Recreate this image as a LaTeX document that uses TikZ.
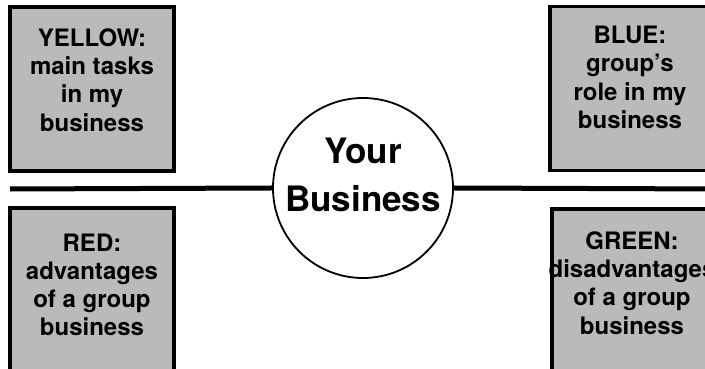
\documentclass[tikz,border=0pt]{standalone}
\usepackage{fontspec}
\setmainfont{TeX Gyre Heros}
\usepackage{tikz}
\usetikzlibrary{
  positioning
}
\definecolor{panelgray}{RGB}{186,186,186}

\begin{document}
\begin{tikzpicture}[
      x=1pt,y=1pt,
      panel/.style={
         rectangle,
         draw=black,
         line width=3.2pt,
         fill=panelgray,
         inner sep=0pt
      },
      panel text/.style={
         align=center,
         inner sep=0pt,
         font=\fontsize{24}{28.3}\selectfont\bfseries
      },
      hub/.style={
         circle,
         draw=black,
         line width=1.8pt,
         fill=white,
         minimum size=180pt,
         inner sep=0pt
      },
      hub text/.style={
         align=center,
         inner sep=0pt,
         font=\fontsize{35}{48}\selectfont\bfseries
      },
      axis/.style={line width=5pt}
    ]
    \useasboundingbox (0,0) rectangle (705,369);

    % the four quarters
    \node (yellow) [panel, minimum width=164pt, minimum height=164pt] at (92,280) {};
    \node (blue)   [panel, minimum width=160pt, minimum height=164pt] at (630,280.5) {};
    \node (red)    [panel, minimum width=164pt, minimum height=170pt] at (92,76) {};
    \node (green)  [panel, minimum width=160pt, minimum height=170pt] at (632,75) {};

    \node (yellow text) [panel text, below=23pt of yellow.north] {YELLOW:\\main tasks\\in my\\business};
    \node (blue text)   [panel text, below=21pt of blue.north] {BLUE:\\group’s\\role in my\\business};
    \node (red text)    [panel text, below=27pt of red.north] {RED:\\advantages\\of a group\\business};
    \node (green text)  [panel text, below=24pt of green.north] {GREEN:\\disadvantages\\of a group\\business};

    % dividing line through the hub
    \coordinate (west) at (10,180);
    \coordinate (east) at (720,180);
    \node (hub) [hub] at (363,181) {};
    \draw [axis] (west) -- (hub.west);
    \draw [axis] (hub.east) -- (east);
    \node (hub label) [hub text] at ([yshift=13pt]hub.center) {Your\\Business};
\end{tikzpicture}
\end{document}
